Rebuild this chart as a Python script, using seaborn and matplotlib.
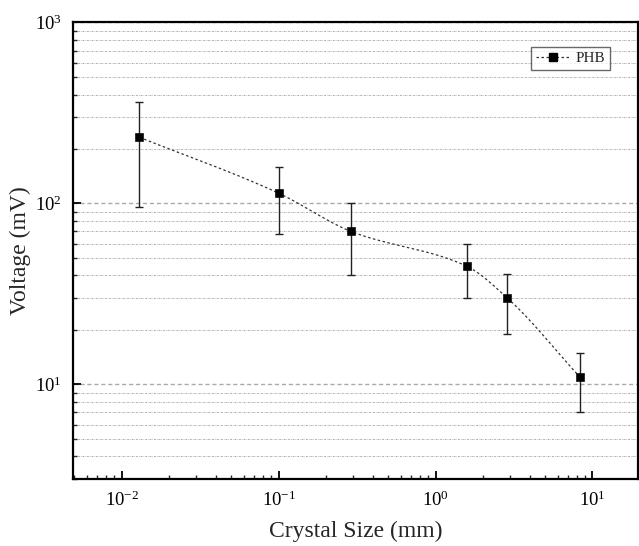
import numpy as np
import pandas as pd
import matplotlib
matplotlib.use("Agg")
import matplotlib.pyplot as plt
import matplotlib.ticker as mticker
from matplotlib.lines import Line2D
import seaborn as sns

# ---- data ----
crystal_size = [0.013, 0.10, 0.29, 1.58, 2.87, 8.3]
voltage = [232, 114, 70, 45, 30, 11]
err_low = [96, 68, 40, 30, 19, 7]
err_high = [362, 160, 100, 60, 41, 15]
series_name = "PHB"
x_label = "Crystal Size (mm)"
y_label = "Voltage (mV)"

df = pd.DataFrame({"size": crystal_size, "voltage": voltage})

sns.set_style("ticks")
plt.rcParams["font.family"] = ["Liberation Serif", "DejaVu Serif"]
plt.rcParams["mathtext.fontset"] = "stix"

fig = plt.figure(figsize=(6.39, 5.46), dpi=100)
ax = fig.add_axes([0.1142, 0.1227, 0.8842, 0.8361])
ax.set_xscale("log")
ax.set_yscale("log")

# monotone (PCHIP) connecting curve in log-log space, derived from data
lx = np.log10(np.array(crystal_size))
ly = np.log10(np.array(voltage, dtype=float))
n = len(lx)
h = np.diff(lx)
d = np.diff(ly) / h
m = np.zeros(n)
for i in range(1, n - 1):
    if d[i - 1] * d[i] > 0:
        w1 = 2 * h[i] + h[i - 1]
        w2 = h[i] + 2 * h[i - 1]
        m[i] = (w1 + w2) / (w1 / d[i - 1] + w2 / d[i])
m[0] = d[0]
m[-1] = d[-1]
cx, cy = [], []
for i in range(n - 1):
    t = np.linspace(0, 1, 40)
    h00 = 2 * t**3 - 3 * t**2 + 1
    h10 = t**3 - 2 * t**2 + t
    h01 = -2 * t**3 + 3 * t**2
    h11 = t**3 - t**2
    cx.append(lx[i] + t * h[i])
    cy.append(h00 * ly[i] + h10 * h[i] * m[i] + h01 * ly[i + 1] + h11 * h[i] * m[i + 1])
curve = pd.DataFrame({"x": 10 ** np.concatenate(cx), "y": 10 ** np.concatenate(cy)})
sns.lineplot(data=curve, x="x", y="y", ax=ax, color="#333333", lw=0.9,
             linestyle=(0, (2, 2)), sort=False, estimator=None, legend=False)

v = np.array(voltage, dtype=float)
yerr = [v - np.array(err_low), np.array(err_high) - v]
ax.errorbar(crystal_size, voltage, yerr=yerr, fmt="none", ecolor="#222222",
            elinewidth=1.0, capsize=3.0, capthick=1.0, zorder=3)
sns.scatterplot(data=df, x="size", y="voltage", ax=ax, marker="s", s=30,
                color="black", edgecolor="black", zorder=4, legend=False)

ax.set_xlim(0.0049, 19.5)
ax.set_ylim(3, 1000)

ax.yaxis.set_major_locator(mticker.LogLocator(base=10, numticks=10))
ax.yaxis.set_minor_locator(mticker.LogLocator(base=10, subs=np.arange(2, 10), numticks=10))
ax.xaxis.set_major_locator(mticker.LogLocator(base=10, numticks=10))
ax.xaxis.set_minor_locator(mticker.LogLocator(base=10, subs=np.arange(2, 10), numticks=10))
ax.yaxis.set_minor_formatter(mticker.NullFormatter())
ax.xaxis.set_minor_formatter(mticker.NullFormatter())

ax.grid(False)
ax.grid(True, which="major", axis="y", color="#aaaaaa", lw=1.0, linestyle=(0, (3, 2)))
ax.grid(True, which="minor", axis="y", color="#b0b0b0", lw=0.7, linestyle=(0, (2, 1, 0.6, 1)))
ax.set_axisbelow(True)

ax.tick_params(which="major", direction="in", length=6, width=1.3, labelsize=13.5,
               colors="black", pad=8)
ax.tick_params(which="minor", direction="in", length=3, width=1.0)
for s in ax.spines.values():
    s.set_linewidth(1.6)
    s.set_color("black")
    s.set_visible(True)

ax.set_xlabel(x_label, fontsize=17, labelpad=8)
ax.set_ylabel(y_label, fontsize=17, labelpad=3)

handle = Line2D([0], [0], color="#333333", lw=0.9, linestyle=(0, (2, 2)),
                marker="s", markersize=6, markerfacecolor="black", markeredgecolor="black")
leg = ax.legend([handle], [series_name], loc="upper right", bbox_to_anchor=(0.95, 0.947),
                borderaxespad=0, frameon=True, fancybox=False, fontsize=11,
                handlelength=2.2, handletextpad=0.4, borderpad=0.3)
leg.get_frame().set_edgecolor("#444444")
leg.get_frame().set_linewidth(1.0)

fig.savefig("out.png", dpi=100)
